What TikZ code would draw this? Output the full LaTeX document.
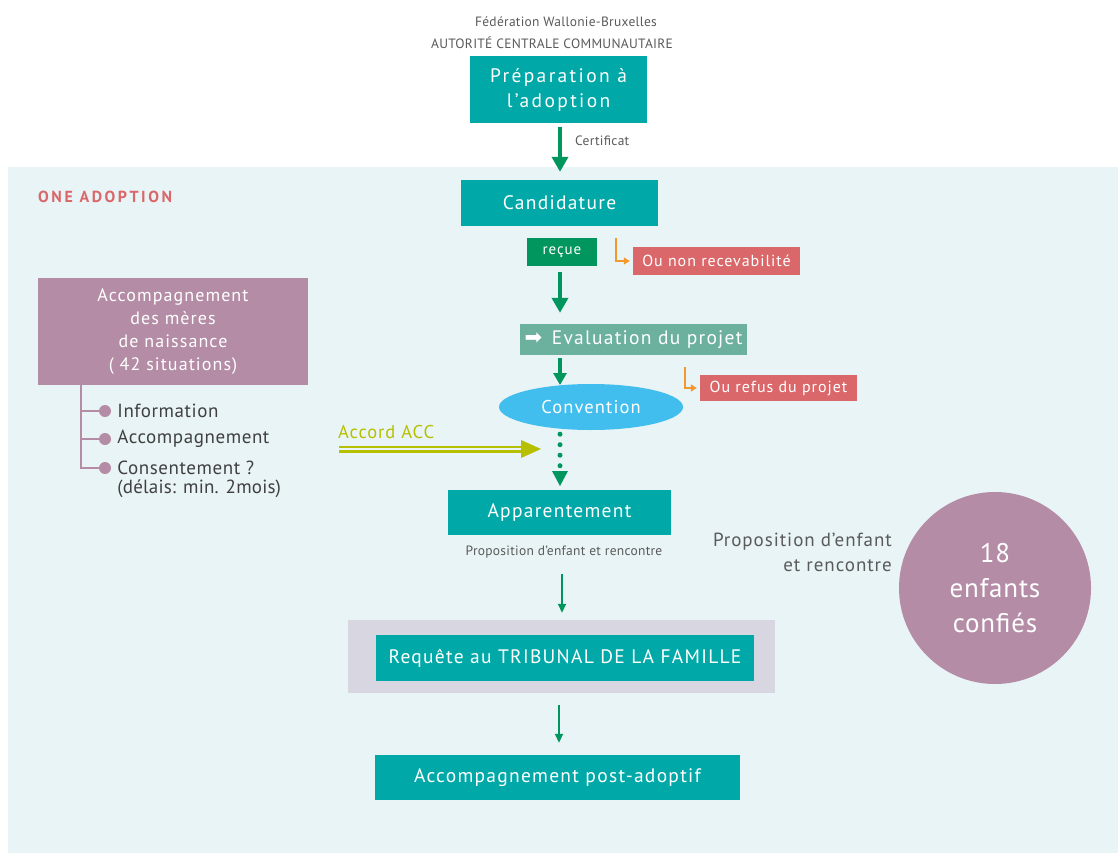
\documentclass[tikz,border=0pt]{standalone}
\usepackage{fontspec}
\setmainfont{PT Sans}
\newfontfamily\dejavu{DejaVu Sans}
\newcommand\track[1]{\addfontfeatures{LetterSpace=#1}}
\usepackage{xcolor}
\usetikzlibrary{arrows.meta, positioning, shapes.geometric, calc}
\definecolor{panel}{RGB}{233,244,246}
\definecolor{tealbox}{RGB}{0,168,168}
\definecolor{darkgreen}{RGB}{0,150,94}
\definecolor{sage}{RGB}{108,176,158}
\definecolor{refusred}{RGB}{218,103,105}
\definecolor{orangeline}{RGB}{242,153,46}
\definecolor{skyblue}{RGB}{66,190,238}
\definecolor{mauve}{RGB}{180,140,166}
\definecolor{lime}{RGB}{183,192,0}
\definecolor{framegrey}{RGB}{216,214,224}
\definecolor{greytext}{RGB}{90,90,90}

\begin{document}
\begin{tikzpicture}[
    x=1pt, y=-1pt,
    block/.style={rectangle, fill=tealbox, text=white, inner sep=0pt, align=center, font=\fontsize{19.5}{25}\selectfont\track{6.5}},
    refus/.style={rectangle, fill=refusred, text=white, inner sep=0pt, font=\fontsize{16}{18}\selectfont\track{6}},
    small/.style={text=greytext, inner sep=0pt, font=\fontsize{13.5}{15}\selectfont\track{2}},
    item/.style={text=black!75, inner sep=0pt, anchor=west, font=\fontsize{19}{22}\selectfont\track{3}},
    dot/.style={circle, fill=mauve, inner sep=0pt, minimum size=12pt},
    bigarrow/.style={draw=darkgreen, line width=4.5pt, -{Triangle[width=16pt, length=15pt]}},
    thinarrow/.style={draw=darkgreen, line width=1.8pt, -{Triangle[width=8pt, length=9pt]}},
    elbow/.style={draw=orangeline, line width=1.8pt, -{Triangle[width=7pt, length=6pt]}},
    tree/.style={draw=mauve, line width=1.8pt}
]
\useasboundingbox (0,0) rectangle (1118,853);
\fill[panel] (8,167) rectangle (1118,853);

% en-tete
\node[small] (fwb) at (566,22) {Fédération Wallonie-Bruxelles};
\node[small] (acc) at (552,43) {AUTORITÉ CENTRALE COMMUNAUTAIRE};
\node[block, minimum width=177pt, minimum height=67pt, font=\fontsize{19.5}{25}\selectfont\track{12}] (prep) at (558.5,89.5) {Préparation à\\l'adoption};
\node[small, anchor=west] (certif) at (575,141) {Certificat};

\node[text=refusred, anchor=west, inner sep=0pt, font=\fontsize{16}{18}\bfseries\track{16}] (one) at (38,197) {ONE ADOPTION};

% parcours central
\node[block, minimum width=197pt, minimum height=46pt] (cand) at (559.5,203) {Candidature};
\node[rectangle, fill=darkgreen, text=white, inner sep=0pt, minimum width=70pt, minimum height=28pt, font=\fontsize{15}{17}\selectfont\track{6}] (recue) at (562,252) {reçue};
\node[refus, minimum width=167pt, minimum height=28pt] (nonrec) at (716.5,261) {Ou non recevabilité};
\node[block, fill=sage, minimum width=227pt, minimum height=31pt] (eval) at (633.5,339.5) {{\dejavu\fontsize{21}{21}\selectfont ➡}\, Evaluation du projet};
\node[refus, minimum width=157pt, minimum height=26pt] (refusp) at (778.5,388) {Ou refus du projet};
\node[ellipse, fill=skyblue, text=white, inner sep=0pt, minimum width=184pt, minimum height=46pt, font=\fontsize{18.5}{20}\selectfont\track{6}] (conv) at (591,407) {Convention};
\node[text=lime, anchor=west, inner sep=0pt, font=\fontsize{18.5}{20}\selectfont\track{5}] (accord) at (338,432) {Accord ACC};
\node[block, minimum width=223pt, minimum height=45pt] (appar) at (559.5,512.5) {Apparentement};
\node[small] (propsmall) at (564,552) {Proposition d'enfant et rencontre};
\node[rectangle, fill=framegrey, minimum width=427pt, minimum height=73pt] (frame) at (561.5,656.5) {};
\node[block, minimum width=378pt, minimum height=46pt] (req) at (565,658) {Requête au TRIBUNAL DE LA FAMILLE};
\node[block, minimum width=365pt, minimum height=45pt] (post) at (557.5,777.5) {Accompagnement post-adoptif};

% meres de naissance
\node[rectangle, fill=mauve, text=white, inner sep=0pt, align=center, minimum width=270pt, minimum height=107pt, font=\fontsize{18}{23}\selectfont\track{6}] (meres) at (173,331.5) {Accompagnement\\des mères\\de naissance\\( 42 situations)};
\coordinate (treetop) at (81,385);
\node[dot] (d1) at (105,411) {};
\node[dot] (d2) at (105,439) {};
\node[dot] (d3) at (105,468) {};
\node[item, right=6pt of d1] (info) {Information};
\node[item, right=6pt of d2] (accomp) {Accompagnement};
\node[item, right=6pt of d3] (consent) {Consentement ?};
\node[item, anchor=north west, font=\fontsize{19}{22}\selectfont\track{1}] (delais) at ($(consent.south west)+(0,5)$) {(délais: min. 2mois)};

% enfants confies
\node[circle, fill=mauve, text=white, inner sep=0pt, minimum size=192pt, align=center, font=\fontsize{27}{35}\selectfont\track{3}] (enfants) at (995,588) {18\\enfants\\confiés};
\node[text=greytext, anchor=east, inner sep=0pt, align=right, font=\fontsize{19}{25}\selectfont\track{5}] (proptext) at (892,552) {Proposition d'enfant\\et rencontre};

% connecteurs
\draw[bigarrow, shorten <=4pt, shorten >=8pt] (prep.south -| 560,0) -- (cand.north -| 560,0);
\draw[bigarrow, shorten <=6pt, shorten >=11pt] (recue.south -| 560,0) -- (eval.north -| 560,0);
\draw[bigarrow, line width=3.5pt, -{Triangle[width=13pt, length=12pt]}, shorten <=3pt, shorten >=1pt] (eval.south -| 560,0) -- (560,386);
\draw[darkgreen, line width=5pt, line cap=round, dash pattern=on 0pt off 10.5pt] ($(conv.south -| 560,0)+(0,4)$) -- (560,470);
\fill[darkgreen] (552,471) -- (568,471) -- (560,486) -- cycle;
\draw[thinarrow, shorten <=16pt, shorten >=7pt] (propsmall.south -| 562,0) -- (frame.north -| 562,0);
\draw[thinarrow, shorten <=12pt, shorten >=12pt] (frame.south -| 559,0) -- (post.north -| 559,0);

\coordinate (e1) at (616,238);
\coordinate (e2) at (685,367);
\draw[elbow, shorten >=3pt] (e1) |- (nonrec.west);
\draw[elbow, shorten >=3pt] (e2) |- (refusp.west);

\coordinate (accstart) at (339,449);
\coordinate (accend) at (541,449);
\draw[lime, line width=2.5pt, double=panel, double distance=2pt, shorten >=18pt] (accstart) -- (accend);
\fill[lime] (accend) -- ++(-20,-9) -- ++(0,18) -- cycle;

\draw[tree] (treetop) |- (d1);
\draw[tree] (treetop) |- (d2);
\draw[tree] (treetop) |- (d3);
\end{tikzpicture}
\end{document}
